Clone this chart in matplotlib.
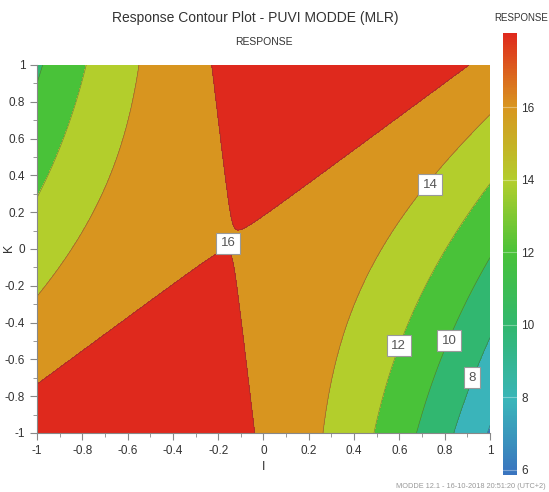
import numpy as np
import matplotlib
matplotlib.use('Agg')
import matplotlib.pyplot as plt
from matplotlib.colors import LinearSegmentedColormap, Normalize
from matplotlib.cm import ScalarMappable
from matplotlib.ticker import MultipleLocator

plt.rcParams['font.family'] = ['Liberation Sans', 'DejaVu Sans']

# MLR model: RESPONSE = b0 + b1*I + b2*K + b12*I*K + b11*I^2 + b22*K^2
terms = ['Constant', 'I', 'K', 'I*K', 'I*I', 'K*K']
coeffs = [15.886, -1.39, 0.55, 4.29, -4.27, 0.45]

levels = [0, 6, 8, 10, 12, 14, 16, 18]
axis_ticks = [-1, -0.8, -0.6, -0.4, -0.2, 0, 0.2, 0.4, 0.6, 0.8, 1]
cbar_ticks = [6, 8, 10, 12, 14, 16]
cbar_range = [5.85, 18.05]

# colour scale stops (value -> colour)
cmap_values = [6, 8, 10, 12, 14, 16, 18]
cmap_colors = ['#3A74BF', '#3AB5BA', '#31B770', '#48C239', '#B3CE2C', '#D8961F', '#DF291D']

# contour labels: value and where they sit (I, K)
label_values = [16, 14, 12, 10, 8]
label_pos = [(-0.155, 0.03), (0.735, 0.35), (0.597, -0.526), (0.819, -0.499), (0.92, -0.70)]

TEXT = '#333333'

b0, b1, b2, b12, b11, b22 = coeffs
I = np.linspace(-1, 1, 801)
K = np.linspace(-1, 1, 801)
II, KK = np.meshgrid(I, K)
Z = b0 + b1 * II + b2 * KK + b12 * II * KK + b11 * II ** 2 + b22 * KK ** 2

vmin, vmax = cbar_range
cmap_lo, cmap_hi = cmap_values[0], cmap_values[-1]
stops = [(v - cmap_lo) / (cmap_hi - cmap_lo) for v in cmap_values]
cmap = LinearSegmentedColormap.from_list('modde', list(zip(stops, cmap_colors)))
norm = Normalize(vmin=cmap_lo, vmax=cmap_hi)
# MODDE fills each band with the colour of its upper limit
fill_colors = [cmap(norm(hi)) for hi in levels[1:]]

fig = plt.figure(figsize=(5.49, 4.92), dpi=100)
ax = fig.add_axes([0.0674, 0.120, 0.8251, 0.748])

ax.contourf(II, KK, Z, levels=levels, colors=fill_colors)
ax.contour(II, KK, Z, levels=levels[1:-1], colors='#444444', linewidths=0.45, alpha=0.55)

for val, (px, py) in zip(label_values, label_pos):
    ax.text(px, py, str(val), ha='center', va='center', fontsize=9.5, color='#555555',
            bbox=dict(facecolor='white', edgecolor='#999999', linewidth=0.8, boxstyle='square,pad=0.35'),
            zorder=5)

ax.set_xlim(-1, 1)
ax.set_ylim(-1, 1)
ax.set_xticks(axis_ticks)
ax.set_yticks(axis_ticks)
ax.set_xticklabels([f'{v:g}' for v in axis_ticks])
ax.set_yticklabels([f'{v:g}' for v in axis_ticks])
ax.xaxis.set_minor_locator(MultipleLocator(0.1))
ax.yaxis.set_minor_locator(MultipleLocator(0.1))
ax.tick_params(which='both', direction='out', color='#888888', labelcolor=TEXT, labelsize=8.5)
ax.tick_params(which='major', length=5, width=0.8)
ax.tick_params(which='minor', length=3, width=0.6)
for side in ['top', 'right']:
    ax.spines[side].set_visible(False)
for side in ['left', 'bottom']:
    ax.spines[side].set_color('#888888')
    ax.spines[side].set_linewidth(0.8)

ax.set_xlabel('I', fontsize=9, color=TEXT, labelpad=3)
fig.text(0.017, 0.496, 'K', rotation=90, ha='center', va='center', fontsize=9, color=TEXT)

fig.text(0.465, 0.963, 'Response Contour Plot - PUVI MODDE (MLR)', ha='center', va='center',
         fontsize=10, color=TEXT)
fig.text(0.48, 0.914, 'RESPONSE', ha='center', va='center', fontsize=7.5, color=TEXT)

# colour bar
cax = fig.add_axes([0.916, 0.0346, 0.026, 0.898])
sm = ScalarMappable(norm=Normalize(vmin=vmin, vmax=vmax), cmap=cmap)
cb = fig.colorbar(sm, cax=cax, ticks=cbar_ticks)
cb.outline.set_visible(False)
cb.ax.tick_params(length=0, labelsize=8.5, labelcolor=TEXT, pad=3)
for t in cbar_ticks:
    cb.ax.axhline(t, color='white', alpha=0.35, linewidth=0.8)
fig.text(0.949, 0.963, 'RESPONSE', ha='center', va='center', fontsize=7, color=TEXT)

fig.text(0.722, 0.012, 'MODDE 12.1 - 16-10-2018 20:51:20 (UTC+2)', ha='left', va='center',
         fontsize=5.3, color='#999999')

fig.savefig('out.png', dpi=100, facecolor='white')
